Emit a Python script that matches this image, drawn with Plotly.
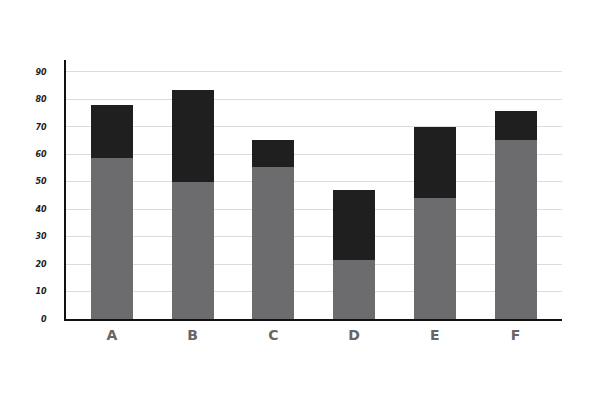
import plotly.graph_objects as go

categories = ["A", "B", "C", "D", "E", "F"]
lower_values = [58.5, 50, 55.5, 21.5, 44, 65]
upper_values = [19.5, 33.3, 9.8, 25.6, 25.8, 10.9]
y_ticks = [0, 10, 20, 30, 40, 50, 60, 70, 80, 90]

fig = go.Figure()
fig.add_trace(go.Bar(x=categories, y=lower_values, marker_color="#6c6c6f",
                     marker_line_width=0, width=0.52))
fig.add_trace(go.Bar(x=categories, y=upper_values, marker_color="#1f1f1f",
                     marker_line_width=0, width=0.52))

# page body adds 8px, so margins are offset by that
fig.update_layout(
    barmode="stack",
    width=600, height=400,
    margin=dict(l=58, r=46, t=52, b=89),
    paper_bgcolor="white", plot_bgcolor="white",
    showlegend=False,
    xaxis=dict(
        range=[-0.57, 5.576],
        automargin=False,
        showline=True, linecolor="#111111", linewidth=1.5,
        showgrid=False, ticks="",
        ticklabelstandoff=2,
        tickfont=dict(family="DejaVu Sans", size=14, color="#666666", weight="bold"),
    ),
    yaxis=dict(
        range=[0, 94.3],
        automargin=False,
        tickvals=y_ticks,
        showline=True, linecolor="#111111", linewidth=1.5,
        showgrid=True, gridcolor="#dcdcdc", gridwidth=1,
        zeroline=False, ticks="",
        ticklabelstandoff=16,
        tickfont=dict(family="DejaVu Sans", size=8, color="#222222",
                      weight="bold", style="italic"),
    ),
)

fig.write_html("out.html")
